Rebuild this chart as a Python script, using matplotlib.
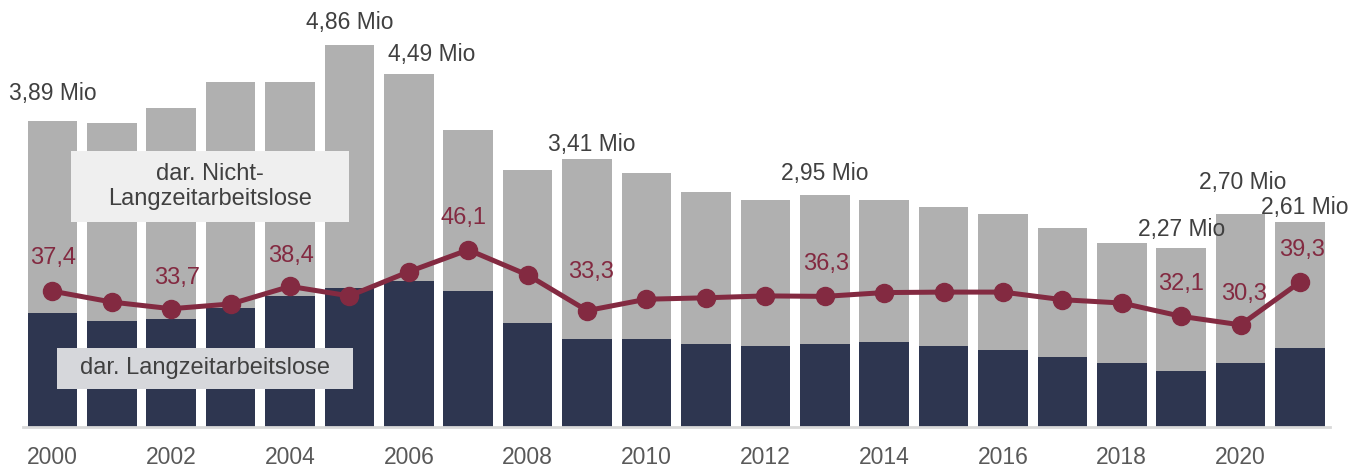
import matplotlib
matplotlib.use('Agg')
import matplotlib.pyplot as plt
from matplotlib.patches import Rectangle
import numpy as np

plt.rcParams['font.family'] = ['Liberation Sans', 'DejaVu Sans']

years = list(range(2000, 2022))
# Arbeitslose insgesamt, Mio
total = [3.89, 3.86, 4.06, 4.38, 4.38, 4.86, 4.49, 3.77, 3.26, 3.41, 3.23,
         2.99, 2.89, 2.95, 2.89, 2.80, 2.70, 2.53, 2.33, 2.27, 2.70, 2.61]
# darunter Langzeitarbeitslose, Mio
langzeit = [1.44, 1.34, 1.37, 1.51, 1.66, 1.76, 1.85, 1.73, 1.32, 1.12, 1.12,
            1.05, 1.03, 1.05, 1.08, 1.03, 0.98, 0.88, 0.81, 0.71, 0.81, 1.00]
# Anteil Langzeitarbeitslose, %
anteil = [37.4, 35.1, 33.7, 34.7, 38.4, 36.4, 41.5, 46.1, 40.8, 33.3, 35.7,
          36.0, 36.4, 36.3, 37.1, 37.2, 37.2, 35.6, 34.9, 32.1, 30.3, 39.3]

# beschriftete Jahre
mio_labels = {2000: '3,89 Mio', 2005: '4,86 Mio', 2006: '4,49 Mio', 2009: '3,41 Mio',
              2013: '2,95 Mio', 2019: '2,27 Mio', 2020: '2,70 Mio', 2021: '2,61 Mio'}
pct_labels = {2000: '37,4', 2002: '33,7', 2004: '38,4', 2007: '46,1', 2009: '33,3',
              2013: '36,3', 2019: '32,1', 2020: '30,3', 2021: '39,3'}

# label offsets in pixels
mio_off = {2000: (0, 27), 2005: (0, 22), 2006: (23, 19), 2009: (5, 14),
           2013: (0, 21), 2019: (0, 19), 2020: (2, 32), 2021: (5, 14)}
pct_off = {2000: (1, 33), 2002: (6, 31), 2004: (1, 30), 2007: (-5, 32), 2009: (4, 39),
           2013: (1, 32), 2019: (0, 32), 2020: (3, 31), 2021: (2, 32)}

DARK = '#2e3650'
GRAY = '#b0b0b0'
RED = '#832a41'
TXT = '#404040'

fig = plt.figure(figsize=(13.68, 4.67), dpi=100)
ax = fig.add_axes([0.0166, 0.0867, 0.9554, 0.9133])
x = np.arange(len(years))
nicht = np.array(total) - np.array(langzeit)
ax.bar(x, langzeit, width=0.835, color=DARK, zorder=2)
ax.bar(x, nicht, bottom=langzeit, width=0.835, color=GRAY, zorder=2)
ax.set_xlim(-0.5, len(years) - 0.5)
ax.set_ylim(0, 5.43)
ax.set_yticks([])
for s in ['top', 'right', 'left']:
    ax.spines[s].set_visible(False)
ax.spines['bottom'].set_color('#d9d9d9')
ax.spines['bottom'].set_linewidth(2)
ax.spines['bottom'].set_zorder(3)
ax.set_xticks(x[::2])
ax.set_xticklabels([str(y) for y in years[::2]])
ax.tick_params(axis='x', length=0, pad=14, labelsize=16.5, labelcolor='#595959')

for i, yr in enumerate(years):
    if yr in mio_labels:
        ax.annotate(mio_labels[yr], (i, total[i]), xytext=mio_off[yr],
                    textcoords='offset pixels', ha='center', va='center',
                    fontsize=16.5, color=TXT)

ax2 = ax.twinx()
ax2.set_ylim(8.9, 98.7)
ax2.axis('off')
ax2.plot(x, anteil, color=RED, lw=3.6, marker='o', markersize=13, zorder=4)
for i, yr in enumerate(years):
    if yr in pct_labels:
        ax2.annotate(pct_labels[yr], (i, anteil[i]), xytext=pct_off[yr],
                     textcoords='offset pixels', ha='center', va='center',
                     fontsize=17, color=RED)

# Legenden-Kästen im Diagramm
fig.add_artist(Rectangle((0.0519, 0.5253), 0.2032, 0.1514, transform=fig.transFigure,
                         facecolor='#efefef', edgecolor='none', zorder=5))
fig.text(0.1535, 0.601, 'dar. Nicht-\nLangzeitarbeitslose', ha='center', va='center',
         fontsize=17, color=TXT, linespacing=1.15, zorder=6)
fig.add_artist(Rectangle((0.0417, 0.167), 0.2164, 0.0878, transform=fig.transFigure,
                         facecolor='#d6d7db', edgecolor='none', zorder=5))
fig.text(0.1499, 0.211, 'dar. Langzeitarbeitslose', ha='center', va='center',
         fontsize=17, color=TXT, zorder=6)

fig.savefig('out.png', dpi=100)
